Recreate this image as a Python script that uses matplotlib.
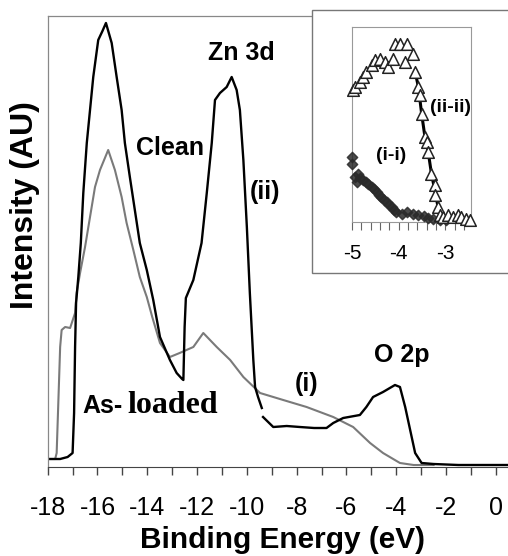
import matplotlib.pyplot as plt
from matplotlib.patches import Rectangle
from matplotlib.ticker import MultipleLocator

plt.rcParams['font.family'] = ['Liberation Sans', 'DejaVu Sans']
plt.rcParams['axes.unicode_minus'] = False

W, H = 508, 556

# main spectra: binding energy (eV) vs intensity (arbitrary units)
clean_energy = [-18.0, -17.5, -17.2, -17.0, -16.94, -16.9, -16.86, -16.77, -16.67, -16.57,
                -16.43, -16.3, -16.17, -15.97, -15.8, -15.66, -15.43, -15.23, -15.03, -14.9,
                -14.7, -14.5, -14.3, -14.02, -13.76, -13.49, -13.09, -12.82, -12.6, -12.55,
                -12.5, -12.45, -12.15, -11.82, -11.61, -11.41, -11.28, -11.08, -10.81, -10.61,
                -10.41, -10.28, -10.14, -10.0, -9.88, -9.74, -9.67, -9.55, -9.4]
clean_intensity = [8, 8, 10, 14, 54, 120, 164, 190, 224, 274,
                   324, 357, 390, 427, 436, 444, 424, 390, 357, 324,
                   290, 257, 224, 197, 167, 130, 107, 94, 88, 87,
                   140, 169, 187, 224, 274, 324, 367, 374, 380, 390,
                   377, 357, 307, 240, 174, 107, 80, 70, 59]

clean_energy_2 = [-9.35, -8.94, -8.4, -7.87, -7.3, -6.8, -6.53, -6.13, -5.46, -5.2,
                  -4.93, -4.53, -4.05, -3.85, -3.64, -3.44, -3.24, -2.98, -2.5, -1.5, 0.5]
clean_intensity_2 = [50, 40, 41, 40, 39, 39, 44, 49, 52, 60,
                     70, 75, 82, 80, 60, 37, 14, 4, 3, 2, 2]

loaded_energy = [-18.0, -17.7, -17.64, -17.5, -17.44, -17.3, -17.1, -16.9, -16.84, -16.7,
                 -16.5, -16.3, -16.1, -15.9, -15.57, -15.3, -15.03, -14.83, -14.56, -14.3,
                 -14.02, -13.8, -13.49, -13.09, -12.7, -12.15, -11.75, -11.21, -10.67, -10.14,
                 -9.47, -8.54, -7.6, -6.53, -5.73, -5.05, -4.53, -3.85, -3.3, -2.5]
loaded_intensity = [8, 8, 14, 120, 137, 140, 139, 154, 174, 194,
                    220, 250, 280, 297, 317, 297, 270, 244, 217, 190,
                    170, 150, 124, 110, 114, 120, 134, 120, 107, 90,
                    74, 67, 60, 50, 40, 24, 14, 4, 2, 2]

# inset: open triangles (ii-ii) and filled diamonds (i-i)
tri_energy = [-4.97, -4.94, -4.83, -4.76, -4.69, -4.58, -4.51, -4.4, -4.29, -4.22,
              -4.12, -4.08, -3.97, -3.83, -3.87, -3.69, -3.65, -3.58, -3.55, -3.51,
              -3.44, -3.4, -3.37, -3.3, -3.23, -3.23, -3.16, -3.12, -3.05, -2.94,
              -2.84, -2.73, -2.66, -2.55, -2.48]
tri_intensity = [132, 135, 140, 145, 150, 157, 162, 163, 160, 155,
                 163, 178, 178, 178, 160, 168, 150, 135, 127, 108,
                 85, 80, 70, 48, 37, 27, 15, 7, 5, 7,
                 5, 7, 5, 3, 2]
fit_energy = [-3.65, -3.58, -3.51, -3.44, -3.37, -3.3, -3.23, -3.16, -3.12, -3.0, -2.48]
fit_intensity = [150, 135, 108, 85, 70, 48, 32, 15, 7, 4, 3]

dia_energy = [-5.0, -5.0, -4.94, -4.87, -4.9, -4.83, -4.76, -4.7, -4.65, -4.58,
              -4.52, -4.47, -4.42, -4.37, -4.31, -4.26, -4.2, -4.15, -4.1, -4.05,
              -3.94, -3.83, -3.69, -3.58, -3.47, -3.37, -3.26, -3.12, -2.98]
dia_intensity = [65, 58, 45, 48, 40, 44, 42, 40, 38, 35,
                 33, 30, 27, 25, 22, 20, 17, 15, 12, 10,
                 8, 10, 8, 7, 6, 4, 3, 2, 2]


def fx(px):
    return px / W


def fy(py):
    return 1 - py / H


fig = plt.figure(figsize=(W / 100, H / 100), dpi=100)
ax = fig.add_axes([fx(47.7), fy(467), 1 - fx(47.7), (467 - 16) / H])

ax.plot(loaded_energy, loaded_intensity, color='#7a7a7a', lw=1.5)
ax.plot(clean_energy, clean_intensity, color='black', lw=1.7)
ax.plot(clean_energy_2, clean_intensity_2, color='black', lw=1.7)

ax.set_xlim(-18, 0.49)
ax.set_ylim(0, 451)
ax.set_yticks([])
ax.xaxis.set_major_locator(MultipleLocator(2))
ax.xaxis.set_minor_locator(MultipleLocator(1))
ax.tick_params(axis='x', which='both', direction='out', length=6, width=1,
               color='#444444', labelsize=18, pad=15)
ax.spines['right'].set_visible(False)
for s in ['left', 'top']:
    ax.spines[s].set_color('#888888')
    ax.spines[s].set_linewidth(0.9)
ax.spines['bottom'].set_color('#444444')

fig.text(fx(283), fy(548), 'Binding Energy (eV)', fontsize=21.5, fontweight='bold',
         ha='center', va='baseline')
fig.text(fx(25), fy(205), 'Intensity (AU)', fontsize=23, fontweight='bold',
         ha='center', va='center', rotation=90)

lab = dict(fontsize=18, fontweight='bold')
fig.text(fx(241), fy(60), 'Zn 3d', ha='center', va='baseline', **lab)
fig.text(fx(170), fy(155), 'Clean', ha='center', va='baseline', **lab)
fig.text(fx(265), fy(192), '(ii)', ha='center', va='center', **lab)
fig.text(fx(402), fy(362), 'O 2p', ha='center', va='baseline', **lab)
fig.text(fx(307), fy(384), '(i)', ha='center', va='center', **lab)
fig.text(fx(82.7), fy(413.3), 'As-', ha='left', va='baseline', **lab)
fig.text(fx(127.3), fy(413.3), 'loaded', ha='left', va='baseline', fontsize=23,
         fontweight='bold', family='Liberation Serif')

# inset frame
fig.patches.append(Rectangle((fx(312), fy(273)), 1, (273 - 10) / H, transform=fig.transFigure,
                             facecolor='white', edgecolor='#777777', lw=1, zorder=2))

ins = fig.add_axes([fx(352), fy(221.7), (470.7 - 352) / W, (221.7 - 26.7) / H], zorder=3)
ins.plot(fit_energy, fit_intensity, color='black', lw=2.2, zorder=2)
ins.scatter(dia_energy, dia_intensity, marker='D', s=28, color='#2a2a2a', alpha=0.85,
            edgecolors='#2a2a2a', clip_on=False, zorder=3)
ins.scatter(tri_energy, tri_intensity, marker='^', s=70, facecolors='white',
            edgecolors='#222222', linewidths=1.1, clip_on=False, zorder=4)
ins.set_xlim(-5, -2.46)
ins.set_ylim(0, 195)
ins.set_yticks([])
ins.xaxis.set_major_locator(MultipleLocator(1))
ins.xaxis.set_minor_locator(MultipleLocator(0.2))
ins.tick_params(axis='x', which='both', direction='out', length=6, width=0.8,
                color='#666666', labelsize=15, pad=10)
for s in ins.spines.values():
    s.set_color('#999999')
    s.set_linewidth(0.8)

ilab = dict(fontsize=14, fontweight='bold')
fig.text(fx(450.5), fy(108), '(ii-ii)', ha='center', va='center', zorder=5, **ilab)
fig.text(fx(391), fy(155), '(i-i)', ha='center', va='center', zorder=5, **ilab)

fig.savefig('out.png', dpi=100)
